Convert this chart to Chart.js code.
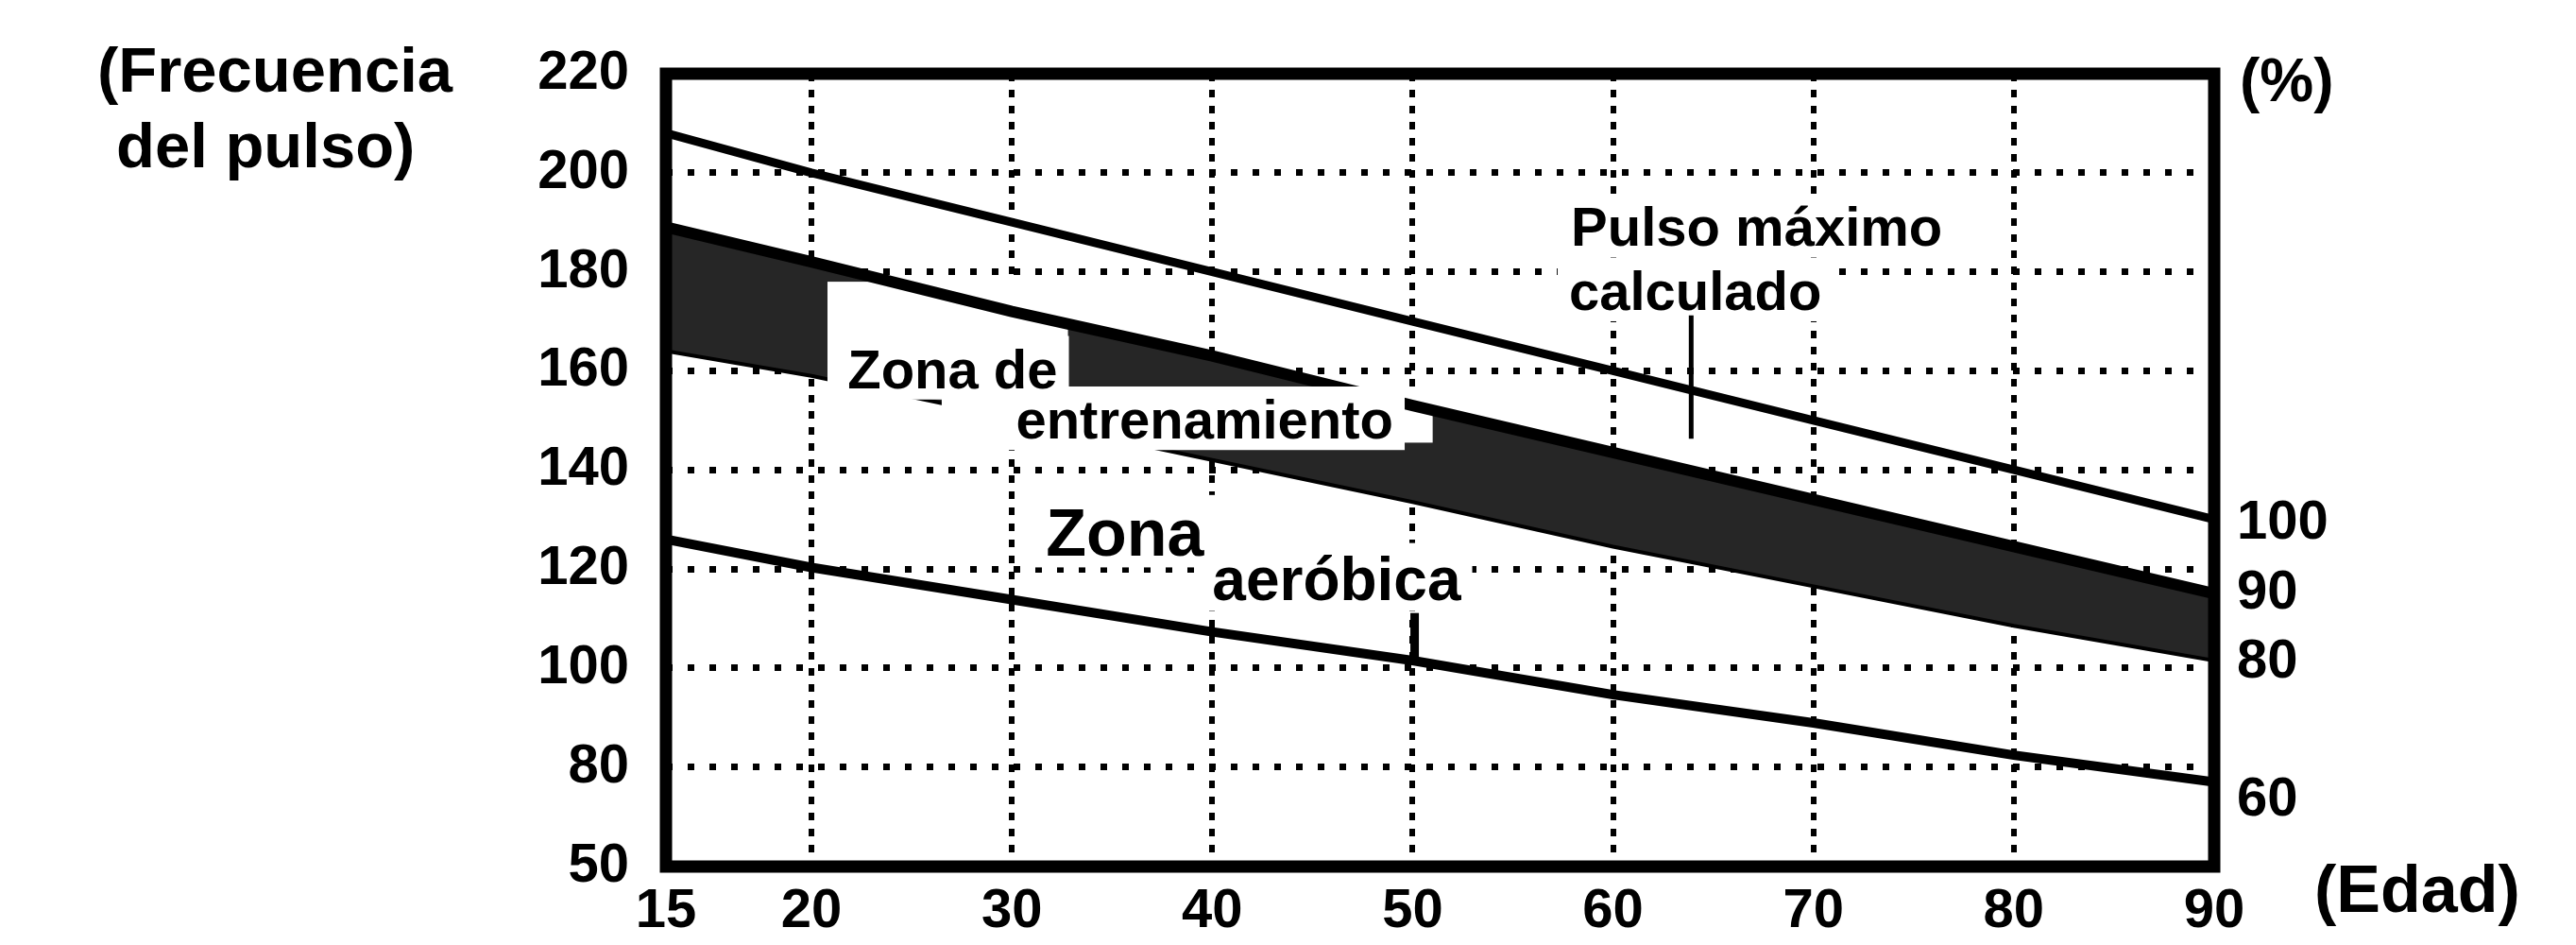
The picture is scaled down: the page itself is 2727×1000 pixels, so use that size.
<!DOCTYPE html>
<html>
<head>
<meta charset="utf-8">
<script src="https://cdn.jsdelivr.net/npm/chart.js@4.4.0/dist/chart.umd.min.js"></script>
<style>
  html, body { margin: 0; padding: 0; background: #fff; }
</style>
</head>
<body>
<canvas id="myChart" width="2727" height="1000"></canvas>
<script>
// values (pulse per minute by age)
const ages = [15, 20, 30, 40, 50, 60, 70, 80, 90];
const maxPulse = [208, 200, 190, 180, 170, 160, 150, 140, 130];
const trainingTop = [189, 182, 172, 163, 153, 143.5, 134, 124.5, 115];
const trainingBottom = [164, 159, 150.5, 142, 133.5, 124.5, 116.5, 108.5, 101.5];
const aerobicBottom = [126, 120.3, 113.8, 107.3, 101.5, 94.6, 88.9, 82.4, 75.5];

const ageTicks = [15, 20, 30, 40, 50, 60, 70, 80, 90];
const pulseTicks = [50, 80, 100, 120, 140, 160, 180, 200, 220];
const percentTicks = [60, 80, 90, 100];

// the original axes are not linear in their first step (15-20 and 50-80),
// so this scale squeezes / stretches the values below "breakAt"
class BrokenScale extends Chart.LinearScale {
  warp(v) {
    const b = this.options.breakAt, k = this.options.squeeze;
    return v < b ? b - (b - v) * k : v;
  }
  unwarp(w) {
    const b = this.options.breakAt, k = this.options.squeeze;
    return w < b ? b - (b - w) / k : w;
  }
  getPixelForValue(value) {
    const lo = this.warp(this.min), hi = this.warp(this.max);
    return this.getPixelForDecimal((this.warp(value) - lo) / (hi - lo));
  }
  getValueForPixel(pixel) {
    const lo = this.warp(this.min), hi = this.warp(this.max);
    return this.unwarp(lo + this.getDecimalForPixel(pixel) * (hi - lo));
  }
}
BrokenScale.id = 'broken';
BrokenScale.defaults = Chart.LinearScale.defaults;
Chart.register(BrokenScale);

const FONT = '"Liberation Sans", Arial, sans-serif';

const notes = [
  { text: 'Pulso máximo', age: 57.9, pulse: 185.2, size: 58 },
  { text: 'calculado', age: 57.8, pulse: 172.3, size: 58 },
  { text: 'Zona de', age: 21.8, pulse: 156.5, size: 58 },
  { text: 'entrenamiento', age: 30.2, pulse: 146.3, size: 58 },
  { text: 'Zona', age: 31.7, pulse: 122.6, size: 70 },
  { text: 'aeróbica', age: 40, pulse: 113.8, size: 64 }
];
const pointers = [
  { age: 63.9, from: 171.2, to: 146.3, width: 5 },
  { age: 50.1, from: 111.1, to: 101.5, width: 9 }
];
// parts of the training band left white behind its label
const clearZones = [
  { from: 20.8, to: 32.8, top: 178, bottom: 155.5 },
  { from: 26.5, to: 51, top: 155.5, bottom: 145.5 }
];

const titles = [
  { text: '(Frecuencia', x: 103, y: 97, size: 67 },
  { text: 'del pulso)', x: 123, y: 177, size: 67 },
  { text: '(%)', x: 2371, y: 107, size: 64 },
  { text: '(Edad)', x: 2450, y: 965, size: 70 }
];

const decor = {
  id: 'decor',
  beforeDatasetDraw(chart, args) {
    if (chart.data.datasets[args.index].label !== 'trainingTop') return;
    const ctx = chart.ctx, x = chart.scales.x, y = chart.scales.y;
    ctx.save();
    ctx.fillStyle = '#fff';
    clearZones.forEach(z => {
      const x1 = x.getPixelForValue(z.from), x2 = x.getPixelForValue(z.to);
      const y1 = y.getPixelForValue(z.top), y2 = y.getPixelForValue(z.bottom);
      ctx.fillRect(x1, y1, x2 - x1, y2 - y1);
    });
    ctx.restore();
  },
  afterDatasetsDraw(chart) {
    const ctx = chart.ctx, x = chart.scales.x, y = chart.scales.y;
    const area = chart.chartArea;
    ctx.save();
    ctx.textAlign = 'left';
    ctx.textBaseline = 'alphabetic';

    notes.forEach(n => {
      ctx.font = 'bold ' + n.size + 'px ' + FONT;
      const w = ctx.measureText(n.text).width;
      const px = x.getPixelForValue(n.age), py = y.getPixelForValue(n.pulse);
      ctx.fillStyle = '#fff';
      ctx.fillRect(px - 12, py - n.size * 0.78 - 10, w + 24, n.size * 0.78 + 22);
    });

    ctx.strokeStyle = '#000';
    pointers.forEach(p => {
      const px = x.getPixelForValue(p.age);
      ctx.lineWidth = p.width;
      ctx.beginPath();
      ctx.moveTo(px, y.getPixelForValue(p.from));
      ctx.lineTo(px, y.getPixelForValue(p.to));
      ctx.stroke();
    });

    ctx.fillStyle = '#000';
    notes.forEach(n => {
      ctx.font = 'bold ' + n.size + 'px ' + FONT;
      ctx.fillText(n.text, x.getPixelForValue(n.age), y.getPixelForValue(n.pulse));
    });

    ctx.lineWidth = 13;
    ctx.strokeRect(area.left, area.top, area.right - area.left, area.bottom - area.top);

    titles.forEach(t => {
      ctx.font = 'bold ' + t.size + 'px ' + FONT;
      ctx.fillText(t.text, t.x, t.y);
    });
    ctx.restore();
  }
};

function lineSet(label, values, width, extra) {
  return Object.assign({
    label: label,
    data: ages.map((a, i) => ({ x: a, y: values[i] })),
    borderColor: '#000',
    borderWidth: width,
    pointRadius: 0,
    fill: false,
    tension: 0
  }, extra || {});
}

var ctx = document.getElementById('myChart').getContext('2d');
var myChart = new Chart(ctx, {
  type: 'line',
  data: {
    datasets: [
      lineSet('maxPulse', maxPulse, 9),
      lineSet('aerobicBottom', aerobicBottom, 10),
      lineSet('trainingTop', trainingTop, 12),
      lineSet('trainingBottom', trainingBottom, 4, { fill: '-1', backgroundColor: '#262626' })
    ]
  },
  options: {
    responsive: false,
    animation: false,
    events: [],
    layout: { padding: { top: 78, left: 0, right: 0, bottom: 0 } },
    plugins: {
      legend: { display: false },
      tooltip: { enabled: false }
    },
    scales: {
      x: {
        type: 'broken',
        breakAt: 20,
        squeeze: 1.452,
        min: 15,
        max: 90,
        afterBuildTicks: s => { s.ticks = ageTicks.map(v => ({ value: v })); },
        afterFit: s => { s.height = 83; },
        grid: { color: '#000', lineWidth: 6, drawTicks: false },
        border: { display: false, dash: [8, 9] },
        ticks: { color: '#000', padding: 13, maxRotation: 0, autoSkip: false,
                 font: { family: FONT, size: 58, weight: 'bold' } }
      },
      y: {
        type: 'broken',
        breakAt: 80,
        squeeze: 0.67,
        min: 50,
        max: 220,
        afterBuildTicks: s => { s.ticks = pulseTicks.map(v => ({ value: v })); },
        afterFit: s => { s.width = 705; },
        grid: { color: '#000', lineWidth: 7, drawTicks: false },
        border: { display: false, dash: [7, 16] },
        ticks: { color: '#000', padding: 39, autoSkip: false,
                 font: { family: FONT, size: 58, weight: 'bold' } }
      },
      y2: {
        type: 'linear',
        position: 'right',
        min: 50.5,
        max: 165,
        afterBuildTicks: s => { s.ticks = percentTicks.map(v => ({ value: v })); },
        afterFit: s => { s.width = 383; },
        grid: { display: false, drawTicks: false },
        border: { display: false },
        ticks: { color: '#000', padding: 24, autoSkip: false,
                 font: { family: FONT, size: 58, weight: 'bold' } }
      }
    }
  },
  plugins: [decor]
});
</script>
</body>
</html>
